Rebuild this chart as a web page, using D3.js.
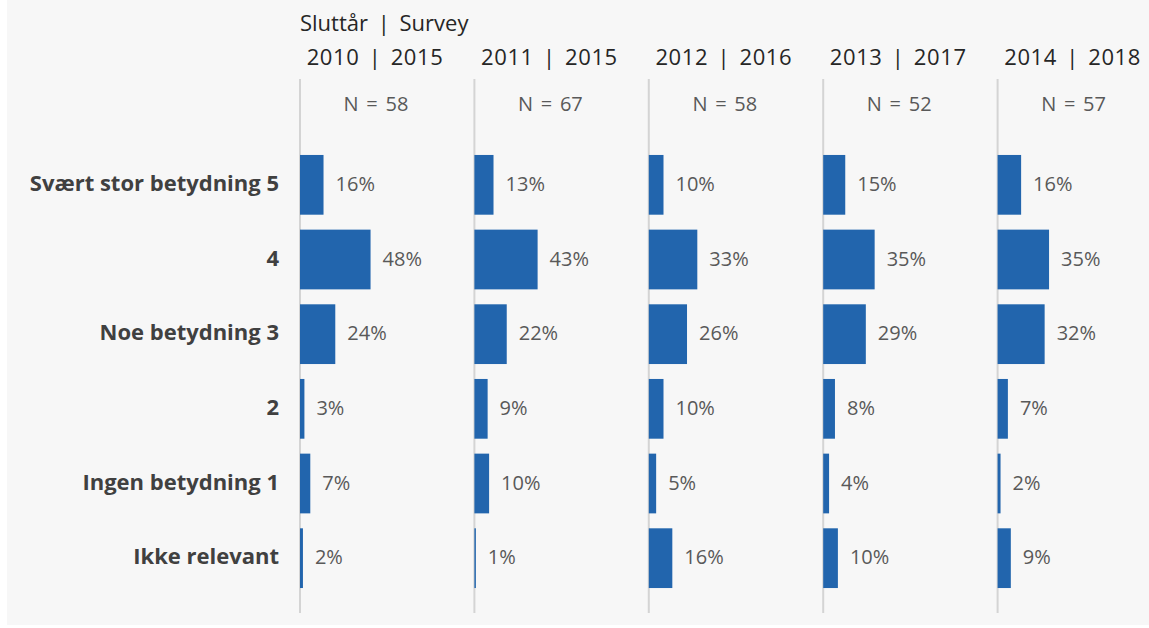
<!DOCTYPE html>
<html><head><meta charset="utf-8">
<script src="https://cdn.jsdelivr.net/npm/d3@7"></script>
<style>body{margin:0;background:#fff}svg{display:block}text{font-family:"Open Sans",Lato,sans-serif}</style>
</head><body><svg id="c" width="1149" height="628"></svg>
<script>
const categories = ["Svært stor betydning 5","4","Noe betydning 3","2","Ingen betydning 1","Ikke relevant"];
const panels = ["2010 | 2015","2011 | 2015","2012 | 2016","2013 | 2017","2014 | 2018"];
const nValues = [58,67,58,52,57];
const values2010 = [16,48,24,3,7,2];
const values2011 = [13,43,22,9,10,1];
const values2012 = [10,33,26,10,5,16];
const values2013 = [15,35,29,8,4,10];
const values2014 = [16,35,32,7,2,9];
const series = [values2010,values2011,values2012,values2013,values2014];
const headerTitle = "Sluttår | Survey";

const svg = d3.select("#c");
svg.append("rect").attr("x",7).attr("y",0).attr("width",1142).attr("height",625).attr("fill","#f7f7f7");

const px = d3.scaleBand().domain(panels).range([300, 300+5*174.4]).paddingInner(0).paddingOuter(0);
const x = d3.scaleLinear().domain([0,100]).range([0,147]);
const y = d3.scaleBand().domain(categories).range([147.5,595.5]).paddingInner(0.2).paddingOuter(0.1);

svg.append("text").attr("x",300).attr("y",31).attr("font-size",22).attr("word-spacing",4).attr("fill","#262626").text(headerTitle);

// category labels
svg.append("g").selectAll("text").data(categories).join("text")
  .attr("x",279).attr("y",d=>y(d)+y.bandwidth()/2+6)
  .attr("text-anchor","end").attr("font-weight","bold").attr("font-size",22).attr("fill","#404040")
  .text(d=>d);

panels.forEach((p,i)=>{
  const g = svg.append("g").attr("transform",`translate(${px(p)},0)`);
  g.append("text").attr("x",75).attr("y",65).attr("text-anchor","middle").attr("font-size",22).attr("word-spacing",3).attr("letter-spacing",0.6).attr("fill","#262626").text(p);
  g.append("text").attr("x",76).attr("y",111).attr("text-anchor","middle").attr("font-size",20).attr("word-spacing",2.5).attr("fill","#595959").text("N = "+nValues[i]);
  g.append("line").attr("x1",0).attr("x2",0).attr("y1",79).attr("y2",613).attr("stroke","#d4d4d4").attr("stroke-width",2);
  const data = categories.map((c,j)=>({c,v:series[i][j]}));
  g.selectAll("rect.bar").data(data).join("rect").attr("class","bar")
    .attr("x",0).attr("y",d=>y(d.c)).attr("width",d=>x(d.v)).attr("height",y.bandwidth()).attr("fill","#2265AD");
  g.selectAll("text.val").data(data).join("text").attr("class","val")
    .attr("x",d=>x(d.v)+12).attr("y",d=>y(d.c)+y.bandwidth()/2+6)
    .attr("font-size",20).attr("fill","#595959").text(d=>d.v+"%");
});
</script></body></html>
